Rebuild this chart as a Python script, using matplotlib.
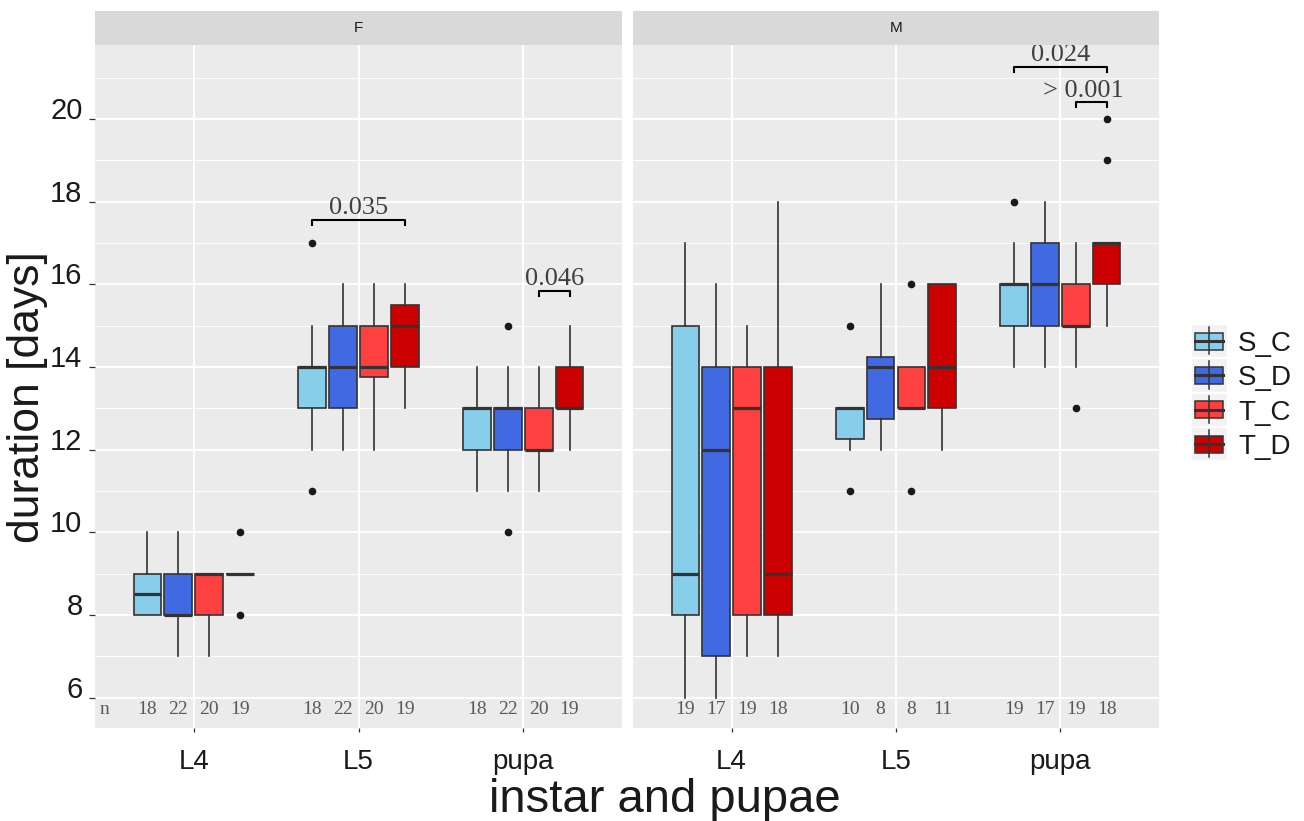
import matplotlib
matplotlib.use("Agg")

import matplotlib.pyplot as plt
from matplotlib.patches import Rectangle
from matplotlib.lines import Line2D

# ── Data ───────────────────────────────────────────────────────────────────────
GROUPS = ["S_C", "S_D", "T_C", "T_D"]
STAGES = ["L4", "L5", "pupa"]
PANELS = ["F", "M"]

# rows = stage (L4, L5, pupa), columns = group (S_C, S_D, T_C, T_D)
F_WHISLO = [[8, 7, 7, 9], [12, 12, 12, 13], [11, 11, 11, 12]]
F_Q1     = [[8, 8, 8, 9], [13, 13, 13.75, 14], [12, 12, 12, 13]]
F_MED    = [[8.5, 8, 9, 9], [14, 14, 14, 15], [13, 13, 12, 13]]
F_Q3     = [[9, 9, 9, 9], [14, 15, 15, 15.5], [13, 13, 13, 14]]
F_WHISHI = [[10, 10, 9, 9], [15, 16, 16, 16], [14, 14, 14, 15]]
F_FLIERS = [[[], [], [], [10, 8]], [[17, 11], [], [], []], [[], [15, 10], [], []]]
F_N      = [[18, 22, 20, 19], [18, 22, 20, 19], [18, 22, 20, 19]]

M_WHISLO = [[6, 6, 7, 7], [12, 12, 13, 12], [14, 14, 14, 15]]
M_Q1     = [[8, 7, 8, 8], [12.25, 12.75, 13, 13], [15, 15, 15, 16]]
M_MED    = [[9, 12, 13, 9], [13, 14, 13, 14], [16, 16, 15, 17]]
M_Q3     = [[15, 14, 14, 14], [13, 14.25, 14, 16], [16, 17, 16, 17]]
M_WHISHI = [[17, 16, 15, 18], [13, 16, 14, 16], [17, 18, 17, 17]]
M_FLIERS = [[[], [], [], []], [[15, 11], [], [16, 11], []], [[18], [], [13], [19, 20]]]
M_N      = [[19, 17, 19, 18], [10, 8, 8, 11], [19, 17, 19, 18]]

# significance brackets: panel, stage index, from group, to group, height, label
SIG_PANEL = ["F", "F", "M", "M"]
SIG_STAGE = [1, 2, 2, 2]
SIG_FROM  = [0, 2, 0, 2]
SIG_TO    = [3, 3, 3, 3]
SIG_Y     = [17.55, 15.85, 21.25, 20.4]
SIG_TEXT  = ["0.035", "0.046", "0.024", "> 0.001"]

Y_TICKS = [6, 8, 10, 12, 14, 16, 18, 20]

# ── Style ──────────────────────────────────────────────────────────────────────
COLORS   = ["#87CEEB", "#4169E1", "#FF4040", "#CD0000"]
EDGE     = "#333333"
PANEL_BG = "#EBEBEB"
STRIP_BG = "#D9D9D9"
SANS     = ["Liberation Sans", "DejaVu Sans"]
SERIF    = ["Liberation Serif", "DejaVu Serif"]

DODGE   = 0.1875
BOX_W   = DODGE * 0.9
OFFSETS = [-1.5 * DODGE, -0.5 * DODGE, 0.5 * DODGE, 1.5 * DODGE]
N_Y     = 5.71
YLIM    = (5.27, 21.79)
XLIM    = (0.4, 3.6)

W, H = 1304, 821


def px_box(x0, y0, x1, y1):
    """Pixel box (top-left origin) -> figure fraction rect."""
    return [x0 / W, 1 - y1 / H, (x1 - x0) / W, (y1 - y0) / H]


fig = plt.figure(figsize=(W / 100, H / 100), dpi=100)
fig.patch.set_facecolor("white")

ax_f = fig.add_axes(px_box(95, 45, 622, 728))
ax_m = fig.add_axes(px_box(633, 45, 1159, 728))

panel_data = {
    "F": (ax_f, F_WHISLO, F_Q1, F_MED, F_Q3, F_WHISHI, F_FLIERS, F_N),
    "M": (ax_m, M_WHISLO, M_Q1, M_MED, M_Q3, M_WHISHI, M_FLIERS, M_N),
}

for name, (ax, lo, q1, med, q3, hi, fl, nn) in panel_data.items():
    ax.set_facecolor(PANEL_BG)
    for sp in ax.spines.values():
        sp.set_visible(False)
    ax.set_xlim(*XLIM)
    ax.set_ylim(*YLIM)

    # grid
    ax.set_yticks(Y_TICKS)
    ax.set_yticks([y + 1 for y in Y_TICKS[:-1]] + [21], minor=True)
    ax.set_xticks([1, 2, 3])
    ax.grid(which="major", color="white", linewidth=1.3, zorder=0)
    ax.grid(which="minor", axis="y", color="white", linewidth=0.65, zorder=0)
    ax.set_axisbelow(True)

    # boxes
    for s in range(len(STAGES)):
        for g in range(len(GROUPS)):
            pos = s + 1 + OFFSETS[g]
            stats = [dict(whislo=lo[s][g], q1=q1[s][g], med=med[s][g],
                          q3=q3[s][g], whishi=hi[s][g], fliers=fl[s][g])]
            ax.bxp(stats, positions=[pos], widths=BOX_W, patch_artist=True,
                   showcaps=False, manage_ticks=False,
                   boxprops=dict(facecolor=COLORS[g], edgecolor=EDGE, linewidth=1.2),
                   medianprops=dict(color=EDGE, linewidth=2.3, solid_capstyle="butt"),
                   whiskerprops=dict(color=EDGE, linewidth=1.2),
                   flierprops=dict(marker="o", markerfacecolor="#1a1a1a",
                                   markeredgecolor="#1a1a1a", markersize=4.5))
            ax.text(pos, N_Y, str(nn[s][g]), ha="center", va="center",
                    fontsize=14, color="#595959", family=SERIF)

    ax.set_xticklabels(STAGES, fontsize=20, color="#1a1a1a", family=SANS)
    ax.tick_params(axis="x", which="major", length=3, width=0.9, color=EDGE, pad=12)
    ax.tick_params(axis="x", which="minor", length=0)
    ax.tick_params(axis="y", which="minor", length=0)

    # strip
    st = fig.add_axes(px_box(ax.get_position().x0 * W, 11,
                             ax.get_position().x1 * W, 45))
    st.set_facecolor(STRIP_BG)
    st.set_xticks([])
    st.set_yticks([])
    for sp in st.spines.values():
        sp.set_visible(False)
    st.text(0.5, 0.5, name, ha="center", va="center", fontsize=11,
            color="#1a1a1a", family=SANS, transform=st.transAxes)

# y axis only on the left panel
ax_f.set_yticklabels([str(v) for v in Y_TICKS], fontsize=21, color="#1a1a1a",
                     family=SANS)
for lab in ax_f.get_yticklabels():
    lab.set_va("baseline")
ax_f.tick_params(axis="y", which="major", length=4, width=0.9, color=EDGE, pad=5)
ax_m.tick_params(axis="y", which="major", length=0, labelleft=False)

# "n" row label
ax_f.text(0.455, N_Y, "n", ha="center", va="center", fontsize=14,
          color="#595959", family=SERIF)

# significance brackets
for p, s, a, b, y, txt in zip(SIG_PANEL, SIG_STAGE, SIG_FROM, SIG_TO, SIG_Y, SIG_TEXT):
    ax = panel_data[p][0]
    x0 = s + 1 + OFFSETS[a]
    x1 = s + 1 + OFFSETS[b]
    tip = 0.12
    ax.plot([x0, x0, x1, x1], [y - tip, y, y, y - tip], color="black",
            linewidth=1.5, solid_joinstyle="round", zorder=5, clip_on=False)
    xc = (x0 + x1) / 2 - (0.05 if txt.startswith(">") else 0)
    ax.text(xc, y + 0.02, txt, ha="center", va="bottom", fontsize=19,
            color="#404040", family=SERIF, zorder=6)

# axis titles
fig.text(28 / W, 1 - 397 / H, "duration [days]", rotation=90, ha="center",
         va="center", fontsize=32, color="#1a1a1a", family=SANS)
fig.text(665 / W, 1 - 800 / H, "instar and pupae", ha="center", va="center",
         fontsize=34, color="#1a1a1a", family=SANS)

# legend (ggplot style keys)
leg = fig.add_axes([0, 0, 1, 1], zorder=-1)
leg.set_xlim(0, W)
leg.set_ylim(H, 0)
leg.axis("off")
key_x0, key_x1 = 1191, 1227
key_top, key_h = 324, 34.3
for i, (lab, col) in enumerate(zip(GROUPS, COLORS)):
    top = key_top + i * key_h
    cy = top + key_h / 2
    cx = (key_x0 + key_x1) / 2
    leg.add_patch(Rectangle((key_x0, top), key_x1 - key_x0, key_h - 1,
                            facecolor="#F2F2F2", edgecolor="white", linewidth=1))
    leg.add_line(Line2D([cx, cx], [top + 3, top + key_h - 4], color=EDGE, linewidth=1.1))
    leg.add_patch(Rectangle((key_x0 + 4, cy - 8.5), key_x1 - key_x0 - 8, 17,
                            facecolor=col, edgecolor=EDGE, linewidth=1.1))
    leg.add_line(Line2D([key_x0 + 4, key_x1 - 4], [cy, cy], color=EDGE, linewidth=2.2))
    leg.text(1238, cy + 3, lab, ha="left", va="center", fontsize=20,
             color="#1a1a1a", family=SANS)

fig.savefig("out.png", dpi=100)
